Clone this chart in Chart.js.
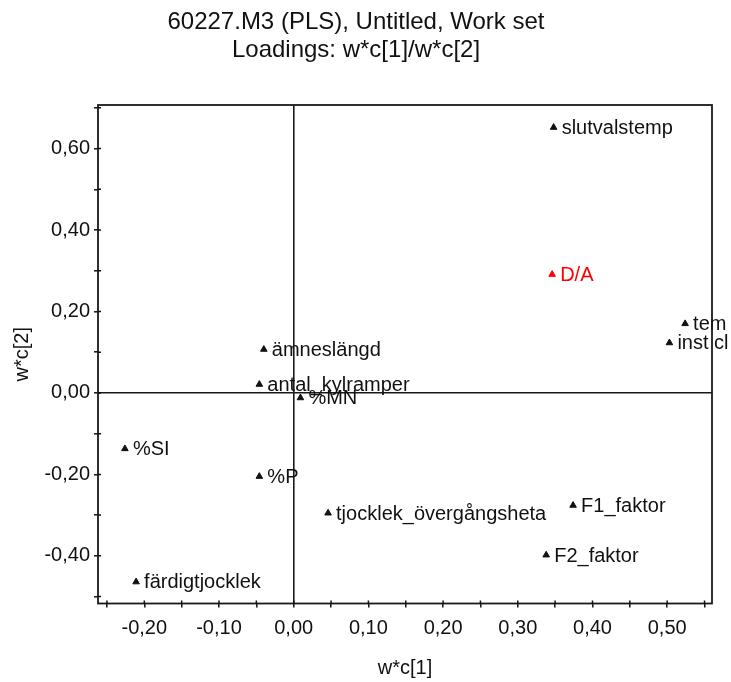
<!DOCTYPE html>
<html>
<head>
<meta charset="utf-8">
<title>Loadings: w*c[1]/w*c[2]</title>
<script src="https://cdn.jsdelivr.net/npm/chart.js@4.4.1/dist/chart.umd.min.js"></script>
<style>
  html, body { margin: 0; padding: 0; background: #ffffff; }
  #wrap { width: 731px; height: 682px; }
</style>
</head>
<body>
<div id="wrap"><canvas id="loadings" width="731" height="682"></canvas></div>
<script>
// PLS loadings, component 1 vs component 2
const variableNames = [
  'slutvalstemp', 'D/A', 'tem', 'inst cl', 'ämneslängd', 'antal_kylramper',
  '%MN', '%SI', '%P', 'tjocklek_övergångsheta', 'F1_faktor', 'F2_faktor', 'färdigtjocklek'
];
const wc1 = [0.348, 0.346, 0.524, 0.503, -0.040, -0.046, 0.009, -0.226, -0.046, 0.046, 0.374, 0.338, -0.211];
const wc2 = [0.652, 0.291, 0.170, 0.123, 0.107, 0.021, -0.012, -0.137, -0.205, -0.295, -0.276, -0.398, -0.464];
const responseName = 'D/A';   // the y variable, drawn in red

const titleLines = ['60227.M3 (PLS), Untitled, Work set', 'Loadings: w*c[1]/w*c[2]'];
const xAxisTitle = 'w*c[1]';
const yAxisTitle = 'w*c[2]';

const FONT = "'Liberation Sans', Arial, sans-serif";
const INK = '#111111';
const RED = '#ff0000';

function fmtComma(v) {
  let r = Math.round(v * 100) / 100;
  if (Math.abs(r) < 1e-9) r = 0;
  return r.toFixed(2).replace('.', ',');
}
function isMultiple(v, step) {
  const k = v / step;
  return Math.abs(k - Math.round(k)) < 1e-6;
}
const isZero = v => Math.abs(v) < 1e-9;

// Text labels beside each loading marker
const pointLabels = {
  id: 'pointLabels',
  afterDatasetsDraw(chart) {
    const ctx = chart.ctx;
    const meta = chart.getDatasetMeta(0);
    ctx.save();
    ctx.font = '20px ' + FONT;
    ctx.textAlign = 'left';
    ctx.textBaseline = 'middle';
    meta.data.forEach((el, i) => {
      const name = variableNames[i];
      ctx.fillStyle = name === responseName ? RED : INK;
      ctx.fillText(name, el.x + 8, el.y + 1);
    });
    ctx.restore();
  }
};

// Box around the plot and the short inward halves of the axis ticks
const plotFrame = {
  id: 'plotFrame',
  afterDraw(chart) {
    const { ctx, chartArea: a } = chart;
    const xs = chart.scales.x, ys = chart.scales.y;
    ctx.save();
    ctx.strokeStyle = '#1a1a1a';
    ctx.lineWidth = 1.8;
    ctx.strokeRect(a.left, a.top, a.right - a.left, a.bottom - a.top);
    ctx.lineWidth = 1.5;
    ctx.strokeStyle = INK;
    ctx.beginPath();
    xs.ticks.forEach(t => {
      const px = xs.getPixelForValue(t.value);
      ctx.moveTo(px, a.bottom);
      ctx.lineTo(px, a.bottom - 3);
    });
    ys.ticks.forEach(t => {
      const py = ys.getPixelForValue(t.value);
      ctx.moveTo(a.left, py);
      ctx.lineTo(a.left + 3, py);
    });
    ctx.stroke();
    ctx.restore();
  }
};

const zeroGrid = {
  drawOnChartArea: true,
  drawTicks: true,
  tickLength: 4,
  tickWidth: 1.5,
  tickColor: INK,
  lineWidth: 1.6,
  color: c => (c.tick && isZero(c.tick.value)) ? '#1a1a1a' : 'rgba(0,0,0,0)'
};

new Chart(document.getElementById('loadings'), {
  type: 'scatter',
  data: {
    datasets: [{
      data: wc1.map((x, i) => ({ x: x, y: wc2[i] })),
      pointStyle: 'triangle',
      pointRadius: 3.8,
      pointHoverRadius: 3.8,
      borderWidth: 1,
      pointBackgroundColor: variableNames.map(n => n === responseName ? RED : INK),
      pointBorderColor: variableNames.map(n => n === responseName ? RED : INK)
    }]
  },
  options: {
    responsive: false,
    animation: false,
    devicePixelRatio: 1,
    layout: { padding: { left: 0, right: 19, top: 0, bottom: 0 } },
    plugins: {
      legend: { display: false },
      tooltip: { enabled: false },
      title: {
        display: true,
        text: titleLines,
        color: INK,
        font: { family: FONT, size: 24, weight: 'normal', lineHeight: '28px' },
        padding: { top: 8, bottom: 41 }
      }
    },
    scales: {
      x: {
        type: 'linear',
        min: -0.262,
        max: 0.560,
        border: { display: false },
        grid: zeroGrid,
        ticks: {
          stepSize: 0.05,
          includeBounds: false,
          autoSkip: false,
          maxRotation: 0,
          padding: 9,
          color: INK,
          font: { family: FONT, size: 20 },
          callback: v => isMultiple(v, 0.1) ? fmtComma(v) : ''
        },
        title: {
          display: true,
          text: xAxisTitle,
          color: INK,
          font: { family: FONT, size: 20, lineHeight: '24px' },
          padding: { top: 0, bottom: 2 }
        },
        afterFit: s => { s.height = 78.5; }
      },
      y: {
        type: 'linear',
        min: -0.517,
        max: 0.707,
        border: { display: false },
        grid: zeroGrid,
        ticks: {
          stepSize: 0.1,
          includeBounds: false,
          autoSkip: false,
          padding: 4,
          color: INK,
          font: { family: FONT, size: 20 },
          callback: v => isMultiple(v, 0.2) ? fmtComma(v) : ''
        },
        title: {
          display: true,
          text: yAxisTitle,
          color: INK,
          font: { family: FONT, size: 20, lineHeight: '24px' },
          padding: { top: 10, bottom: 0 }
        },
        afterFit: s => { s.width = 98; }
      }
    }
  },
  plugins: [pointLabels, plotFrame]
});
</script>
</body>
</html>
